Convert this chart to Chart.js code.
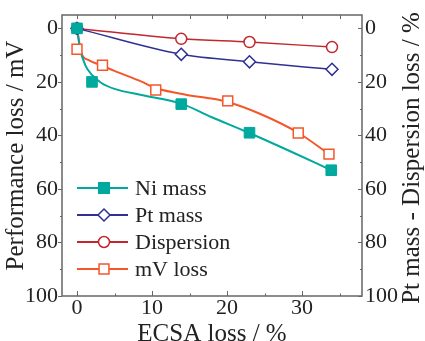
<!DOCTYPE html>
<html>
<head>
<meta charset="utf-8">
<script src="https://cdn.jsdelivr.net/npm/chart.js@4"></script>
<style>
  html, body { margin: 0; padding: 0; background: #fff; }
</style>
</head>
<body>
<canvas id="chart" width="425" height="341"></canvas>
<script>
// measured points (ECSA loss % -> loss)
const niX = [0, 2, 13.9, 23, 33.9];
const niMass = [0, 20, 28.3, 39, 53];
const ptX = [0, 13.9, 23, 34];
const ptMass = [0, 9.7, 12.5, 15.3];
const dispersion = [0, 3.9, 5.1, 7.0];
const mvX = [0, 3.4, 10.5, 20.1, 29.5, 33.6];
const mvLoss = [7.8, 13.8, 23, 27.1, 39.1, 47];

// fitted curves
const niFitX = [0, 0.4, 1.1, 2, 3.3, 5, 8.6, 13.9, 17.9, 22.9, 28.5, 33.9];
const niFitY = [0, 7.5, 13.7, 17.4, 20.5, 22.6, 24.9, 28.1, 33.1, 39, 46, 53];
const mvFitX = [0, 0.6, 1.5, 3.4, 5, 8.6, 10.5, 14.5, 17.9, 20.1, 24.3, 29.5, 33.6];
const mvFitY = [0, 9.3, 11.8, 14, 15.9, 19.9, 22.3, 24.8, 26.2, 27.5, 31.8, 39, 47];

const xTicks = [0, 10, 20, 30];
const xMinor = [5, 15, 25, 35];
const yTicks = [0, 20, 40, 60, 80, 100];
const yMinor = [10, 30, 50, 70, 90];

const TEAL = '#00A99D';
const BLUE = '#2E3192';
const RED = '#C1272D';
const ORANGE = '#F4572A';
const AXIS = '#666';
const TEXT = '#222';
const SERIF = '"Liberation Serif", "Times New Roman", serif';

const pts = (xs, ys) => xs.map((x, i) => ({ x: x, y: ys[i] }));

// box around the plot with inward/outward ticks
const frame = {
  id: 'frame',
  beforeDatasetsDraw(chart) {
    const { ctx, chartArea: a, scales } = chart;
    ctx.save();
    ctx.strokeStyle = AXIS;
    ctx.lineWidth = 1.5;
    ctx.strokeRect(a.left, a.top, a.right - a.left, a.bottom - a.top);
    ctx.lineWidth = 1;
    ctx.beginPath();
    const xt = (v, len) => {
      const px = Math.round(scales.x.getPixelForValue(v)) + 0.5;
      ctx.moveTo(px, a.bottom); ctx.lineTo(px, a.bottom - len);
      ctx.moveTo(px, a.top); ctx.lineTo(px, a.top + 4);
    };
    xTicks.forEach(v => xt(v, 5));
    xMinor.forEach(v => xt(v, 2.5));
    const yt = (v, outL, inR) => {
      const py = Math.round(scales.y.getPixelForValue(v)) + 0.5;
      ctx.moveTo(a.left, py); ctx.lineTo(a.left - outL, py);
      ctx.moveTo(a.right, py); ctx.lineTo(a.right - inR, py);
    };
    yTicks.forEach(v => yt(v, 4, 4));
    yMinor.forEach(v => yt(v, 2, 2));
    ctx.stroke();
    ctx.restore();
  },
  afterDraw(chart) {
    const { ctx, chartArea: a } = chart;
    ctx.save();
    // right axis title reads bottom to top
    ctx.fillStyle = TEXT;
    ctx.font = '25px ' + SERIF;
    ctx.textAlign = 'center';
    ctx.textBaseline = 'middle';
    ctx.translate(412, 158);
    ctx.rotate(-Math.PI / 2);
    ctx.fillText('Pt mass - Dispersion loss / %', 0, 0);
    ctx.restore();

    // legend: line with marker in the middle
    const items = chart.data.datasets.filter(d => d.legend);
    ctx.save();
    ctx.font = '22px ' + SERIF;
    ctx.textBaseline = 'middle';
    items.forEach((d, i) => {
      const y = a.bottom - 108 + i * 27;
      ctx.strokeStyle = d.borderColor;
      ctx.lineWidth = 2;
      ctx.beginPath();
      ctx.moveTo(a.left + 15, y); ctx.lineTo(a.left + 66, y);
      ctx.stroke();
      ctx.fillStyle = d.pointBackgroundColor;
      ctx.lineWidth = 1.5;
      Chart.helpers.drawPoint(ctx, {
        pointStyle: d.pointStyle, radius: d.pointRadius, rotation: 0, borderWidth: 1.5
      }, a.left + 42, y);
      ctx.fillStyle = TEXT;
      ctx.fillText(d.label, a.left + 73, y + 1.5);
    });
    ctx.restore();
  }
};

const tickFont = { family: SERIF, size: 22, lineHeight: 1 };

new Chart(document.getElementById('chart'), {
  type: 'scatter',
  data: {
    datasets: [
      {
        label: 'Ni mass', legend: true, data: pts(niX, niMass), showLine: false,
        borderColor: TEAL, pointBackgroundColor: TEAL, pointBorderColor: TEAL,
        pointStyle: 'rect', pointRadius: 7.5, pointBorderWidth: 1, order: 0
      },
      {
        label: 'Pt mass', legend: true, data: pts(ptX, ptMass), showLine: true, yAxisID: 'y2',
        borderColor: BLUE, borderWidth: 1.5, cubicInterpolationMode: 'monotone',
        pointBackgroundColor: '#fff', pointBorderColor: BLUE,
        pointStyle: 'rectRot', pointRadius: 6, pointBorderWidth: 1.5, order: 1
      },
      {
        label: 'Dispersion', legend: true, data: pts(ptX, dispersion), showLine: true, yAxisID: 'y2',
        borderColor: RED, borderWidth: 1.5, cubicInterpolationMode: 'monotone',
        pointBackgroundColor: '#fff', pointBorderColor: RED,
        pointStyle: 'circle', pointRadius: 5.5, pointBorderWidth: 1.5, order: 1
      },
      {
        label: 'mV loss', legend: true, data: pts(mvX, mvLoss), showLine: false,
        borderColor: ORANGE, pointBackgroundColor: '#fff', pointBorderColor: ORANGE,
        pointStyle: 'rect', pointRadius: 7, pointBorderWidth: 1.5, order: 1
      },
      {
        label: 'Ni fit', data: pts(niFitX, niFitY), showLine: true, pointRadius: 0,
        borderColor: TEAL, borderWidth: 2, cubicInterpolationMode: 'monotone', order: 2
      },
      {
        label: 'mV fit', data: pts(mvFitX, mvFitY), showLine: true, pointRadius: 0,
        borderColor: ORANGE, borderWidth: 2, cubicInterpolationMode: 'monotone', order: 2
      }
    ]
  },
  options: {
    responsive: false,
    animation: false,
    layout: { padding: { top: 14, left: 0, right: 0, bottom: 0 } },
    plugins: { legend: { display: false }, tooltip: { enabled: false } },
    scales: {
      x: {
        type: 'linear', position: 'bottom', min: -2, max: 38,
        afterBuildTicks: s => { s.ticks = xTicks.map(v => ({ value: v })); },
        afterFit: s => { s.height = 45; },
        grid: { display: false, drawTicks: false },
        border: { display: false },
        ticks: { font: tickFont, color: TEXT, padding: 1, maxRotation: 0 },
        title: {
          display: true, text: 'ECSA loss / %', color: TEXT,
          font: { family: SERIF, size: 25, lineHeight: 1 }, padding: { top: 0, bottom: -6 }
        }
      },
      y: {
        type: 'linear', position: 'left', min: -5, max: 100, reverse: true,
        afterBuildTicks: s => { s.ticks = yTicks.map(v => ({ value: v })); },
        afterFit: s => { s.width = 62; },
        grid: { display: false, drawTicks: false },
        border: { display: false },
        ticks: { font: tickFont, color: TEXT, padding: 4 },
        title: {
          display: true, text: 'Performance loss / mV', color: TEXT,
          font: { family: SERIF, size: 25, lineHeight: 1 }, padding: { top: 4, bottom: 0 }
        }
      },
      y2: {
        type: 'linear', position: 'right', min: -5, max: 100, reverse: true,
        afterBuildTicks: s => { s.ticks = yTicks.map(v => ({ value: v })); },
        afterFit: s => { s.width = 63; },
        grid: { display: false, drawTicks: false },
        border: { display: false },
        ticks: { font: tickFont, color: TEXT, padding: 3 }
      }
    }
  },
  plugins: [frame]
});
</script>
</body>
</html>
